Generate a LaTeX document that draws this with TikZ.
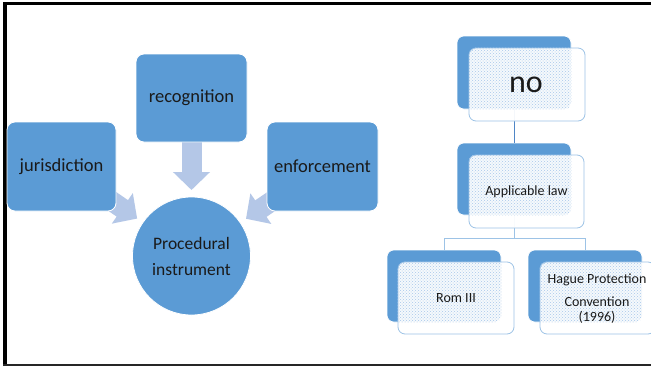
\documentclass[tikz,border=0pt]{standalone}
\usepackage{fontspec}
\setmainfont{Carlito}
\usetikzlibrary{arrows.meta,calc,patterns}
\definecolor{boxblue}{HTML}{5B9BD5}
\definecolor{arrowblue}{HTML}{B4C7E7}
\definecolor{edgeblue}{HTML}{9DC3E6}
\definecolor{linkblue}{HTML}{4F86C6}
\definecolor{dotblue}{HTML}{A9C8EA}
\definecolor{inktext}{HTML}{1A1A1A}

\begin{document}
\begin{tikzpicture}[x=1pt,y=-1pt,
  darkbox/.style={draw=white,line width=0.8pt,fill=boxblue,rounded corners=8pt,
    inner sep=0pt,text=inktext,font=\fontsize{18.5}{22}\selectfont},
  hubcircle/.style={circle,draw=white,line width=0.8pt,fill=boxblue,minimum size=118pt,
    inner sep=0pt,text=inktext,align=center,font=\fontsize{17.5}{26}\selectfont},
  flowarrow/.style={draw=arrowblue,line width=20pt,-{Triangle[width=36pt,length=18pt]}},
  backcard/.style={draw=white,line width=0.6pt,fill=boxblue,rounded corners=7pt,
    minimum width=114pt,minimum height=73pt,inner sep=0pt},
  frontcard/.style={draw=edgeblue,line width=0.8pt,fill=white,fill opacity=0.94,
    rounded corners=7pt,minimum width=116pt,minimum height=73pt,inner sep=0pt},
  cardtext/.style={inner sep=0pt,text=inktext,align=center,font=\fontsize{14}{15}\selectfont},
  treeline/.style={draw=edgeblue,line width=0.8pt},
  stemline/.style={draw=linkblue,line width=0.8pt}]

\useasboundingbox (0,0) rectangle (651,367);
\fill[white] (0,0) rectangle (651,367);

% frame
\draw[line width=4pt] (5,366) -- (5,2);
\draw[line width=3pt] (3,3.5) -- (651,3.5);
\draw[line width=1.6pt,black!85] (3,365.2) -- (651,365.2);

% ---- left cluster: three sources feeding the procedural instrument
\coordinate (hubc) at (191.5,256);
\coordinate (recc) at (191.5,98);
\coordinate (jurc) at (61.5,166.5);
\coordinate (enfc) at (322.5,166.5);

\draw[flowarrow] (recc) -- ($(hubc)!66pt!(recc)$);
\draw[flowarrow] (jurc) -- ($(hubc)!66pt!(jurc)$);
\draw[flowarrow] (enfc) -- ($(hubc)!66pt!(enfc)$);

\node[darkbox,minimum width=111pt,minimum height=88pt] (rec) at (recc) {recognition};
\node[darkbox,minimum width=109pt,minimum height=89pt] (jur) at (jurc) {jurisdiction};
\node[darkbox,minimum width=111pt,minimum height=89pt] (enf) at (enfc) {enforcement};
\node[hubcircle] (proc) at (hubc) {Procedural\\instrument};

% ---- right tree: stacked cards
\node[backcard] (noB)  at (514,72.5) {};
\node[backcard,minimum height=72pt] (alB)  at (514,179) {};
\node[backcard,minimum height=72pt] (romB) at (444,286) {};
\node[backcard,minimum height=72pt] (hagB) at (585,286) {};

\coordinate (bus) at (514,238);
\draw[stemline] (noB.south) -- (alB.north);
\draw[treeline] (alB.south) -- (bus) -| (romB.north);
\draw[treeline] (bus) -| (hagB.north);

\node[frontcard] (noF)  at (527,84.5) {};
\node[frontcard,minimum width=115pt] (alF)  at (526.5,191.5) {};
\node[frontcard,minimum height=72pt] (romF) at (456,298) {};
\node[frontcard,minimum width=115pt,minimum height=72pt] (hagF) at (597.5,298) {};

% dotted tint where each card overlaps its shadow card
\foreach \b/\f in {noB/noF,alB/alF,romB/romF,hagB/hagF}{
  \begin{scope}
    \clip[rounded corners=7pt] (\b.north west) rectangle (\b.south east);
    \fill[pattern=crosshatch dots,pattern color=dotblue,rounded corners=7pt]
      (\f.north west) rectangle (\f.south east);
  \end{scope}
}

\node[cardtext,font=\fontsize{32}{36}\selectfont] (noT) at (526,85) {no};
\node[cardtext] (alT) at (526.5,192) {Applicable law};
\node[cardtext] (romT) at (romF.center) {Rom III};
\node[cardtext] (hagT) at (597,298.5) {Hague Protection\\[8pt]Convention\\(1996)};

\end{tikzpicture}
\end{document}
